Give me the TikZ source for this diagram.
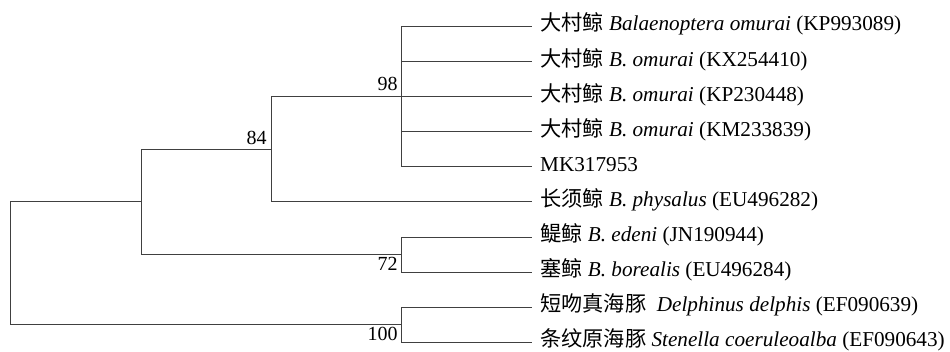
\documentclass[tikz,border=0pt]{standalone}
\usepackage{fontspec}
\setmainfont{Liberation Serif}
\newfontfamily\cjk{Noto Sans CJK SC}
\begin{document}
\begin{tikzpicture}[x=1pt,y=-1pt,
  branch/.style={draw=black!75,line width=0.9pt},
  leaf/.style={anchor=base west,inner sep=0pt,font=\fontsize{21.2}{25}\selectfont},
  boot/.style={anchor=base east,inner sep=0pt,font=\fontsize{20}{24}\selectfont}]
\useasboundingbox (0,0) rectangle (950,352);
% internal nodes
\coordinate (r) at (10.7,263);
\coordinate (nA) at (141,201.7);
\coordinate (n84) at (271.7,149.3);
\coordinate (n98) at (401.7,96.3);
\coordinate (n72) at (401.7,254.3);
\coordinate (n100) at (401.7,324.3);
% leaf ends
\foreach \i/\y in {1/26.3,2/61.7,3/96.7,4/131.7,5/166.7,6/201.7,7/237.3,8/272,9/307.3,10/342.3}{
  \coordinate (e\i) at (531.7,\y);
}
% branches
\draw[branch] (r) |- (nA);
\draw[branch] (r) |- (n100);
\draw[branch] (nA) |- (n84);
\draw[branch] (nA) |- (n72);
\draw[branch] (n84) |- (n98);
\draw[branch] (n84) |- (e6);
\foreach \i in {1,...,5}{\draw[branch] (n98) |- (e\i);}
\draw[branch] (n72) |- (e7);
\draw[branch] (n72) |- (e8);
\draw[branch] (n100) |- (e9);
\draw[branch] (n100) |- (e10);
% leaf labels
\node[leaf] (t1) at ([xshift=8.3pt,yshift=-4.5pt]e1) {{\cjk 大村鲸} \textit{Balaenoptera omurai} (KP993089)};
\node[leaf] (t2) at ([xshift=8.3pt,yshift=-4.5pt]e2) {{\cjk 大村鲸} \textit{B. omurai} (KX254410)};
\node[leaf] (t3) at ([xshift=8.3pt,yshift=-4.5pt]e3) {{\cjk 大村鲸} \textit{B. omurai} (KP230448)};
\node[leaf] (t4) at ([xshift=8.3pt,yshift=-4.5pt]e4) {{\cjk 大村鲸} \textit{B. omurai} (KM233839)};
\node[leaf] (t5) at ([xshift=8.3pt,yshift=-4.5pt]e5) {MK317953};
\node[leaf] (t6) at ([xshift=8.3pt,yshift=-4.5pt]e6) {{\cjk 长须鲸} \textit{B. physalus} (EU496282)};
\node[leaf] (t7) at ([xshift=8.3pt,yshift=-4.5pt]e7) {{\cjk 鳀鲸} \textit{B. edeni} (JN190944)};
\node[leaf] (t8) at ([xshift=8.3pt,yshift=-4.5pt]e8) {{\cjk 塞鲸} \textit{B. borealis} (EU496284)};
\node[leaf] (t9) at ([xshift=8.3pt,yshift=-4.5pt]e9) {{\cjk 短吻真海豚}\hspace{0.5em}\textit{Delphinus delphis} (EF090639)};
\node[leaf] (t10) at ([xshift=8.3pt,yshift=-4.5pt]e10) {{\cjk 条纹原海豚} \textit{Stenella coeruleoalba} (EF090643)};
% bootstrap values
\node[boot] (b98) at ([xshift=-4pt,yshift=5.6pt]n98) {98};
\node[boot] (b84) at ([xshift=-5pt,yshift=4.3pt]n84) {84};
\node[boot] (b72) at ([xshift=-4pt,yshift=-16.4pt]n72) {72};
\node[boot] (b100) at ([xshift=-4pt,yshift=-16.4pt]n100) {100};
\end{tikzpicture}
\end{document}
